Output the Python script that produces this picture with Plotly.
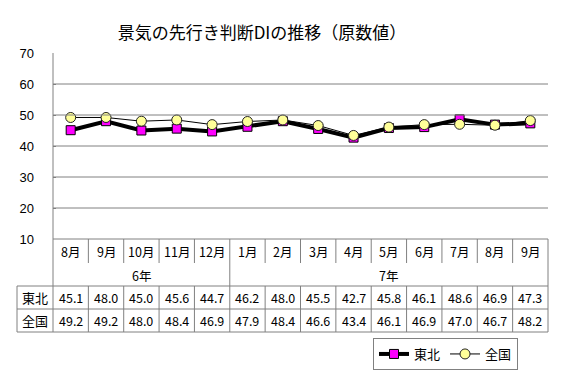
import plotly.graph_objects as go

months = ["8月", "9月", "10月", "11月", "12月", "1月", "2月", "3月", "4月", "5月", "6月", "7月", "8月", "9月"]
years = ["6年"] * 5 + ["7年"] * 9
tohoku = [45.1, 48.0, 45.0, 45.6, 44.7, 46.2, 48.0, 45.5, 42.7, 45.8, 46.1, 48.6, 46.9, 47.3]
zenkoku = [49.2, 49.2, 48.0, 48.4, 46.9, 47.9, 48.4, 46.6, 43.4, 46.1, 46.9, 47.0, 46.7, 48.2]
series_names = ["東北", "全国"]
title_text = "景気の先行き判断DIの推移（原数値）"
y_ticks = [10, 20, 30, 40, 50, 60, 70]

W, H = 564, 382
ML, MR, MT, MB = 53, 16, 53, 50
PW = W - ML - MR
PH = H - MT - MB
JP = "Noto Sans CJK JP"
GRID = "#808080"


def py(p):
    return (H - MB - p) / PH


def px(p):
    return (p - ML) / PW


xs = list(range(len(months)))

fig = go.Figure()
fig.add_trace(go.Scatter(
    x=xs, y=tohoku, name=series_names[0], mode="lines+markers",
    line=dict(color="black", width=4),
    marker=dict(symbol="square", size=9, color="#FF00FF", line=dict(color="black", width=1)),
))
fig.add_trace(go.Scatter(
    x=xs, y=zenkoku, name=series_names[1], mode="lines+markers",
    line=dict(color="black", width=1),
    marker=dict(symbol="circle", size=10, color="#FFFF99", line=dict(color="#222222", width=1)),
))

shapes = []
# horizontal gridlines (not at the bottom / top)
for v in y_ticks[1:-1]:
    shapes.append(dict(type="line", xref="paper", yref="y", x0=0, x1=1, y0=v, y1=v,
                       line=dict(color=GRID, width=1)))
# y axis line running down through the table
shapes.append(dict(type="line", xref="paper", yref="paper", x0=0, x1=0, y0=0, y1=1,
                   line=dict(color=GRID, width=1)))
# table horizontal lines
top = py(239)
r_year = py(263)
r1 = py(286)
r2 = py(309)
bot = 0
shapes.append(dict(type="line", xref="paper", yref="paper", x0=0, x1=1, y0=top, y1=top,
                   line=dict(color=GRID, width=1)))
for yy in (r1, r2, bot):
    shapes.append(dict(type="line", xref="paper", yref="paper", x0=px(17), x1=1, y0=yy, y1=yy,
                       line=dict(color=GRID, width=1)))
shapes.append(dict(type="line", xref="paper", yref="paper", x0=px(17), x1=px(17), y0=bot, y1=r1,
                   line=dict(color=GRID, width=1)))
shapes.append(dict(type="line", xref="paper", yref="paper", x0=1, x1=1, y0=bot, y1=top,
                   line=dict(color=GRID, width=1)))
# vertical separators between months
for i in range(1, len(months)):
    b = i - 0.5
    if years[i] != years[i - 1]:
        shapes.append(dict(type="line", xref="x", yref="paper", x0=b, x1=b, y0=bot, y1=top,
                           line=dict(color=GRID, width=1)))
    else:
        shapes.append(dict(type="line", xref="x", yref="paper", x0=b, x1=b, y0=r_year, y1=top,
                           line=dict(color=GRID, width=1)))
        shapes.append(dict(type="line", xref="x", yref="paper", x0=b, x1=b, y0=bot, y1=r1,
                           line=dict(color=GRID, width=1)))

annotations = []
tf = dict(family=JP, size=12.5, color="black")
for i, m in enumerate(months):
    annotations.append(dict(x=i, y=py(251.5), xref="x", yref="paper", text=m, showarrow=False,
                            font=tf, xanchor="center", yanchor="middle"))
    annotations.append(dict(x=i, y=py(297.5), xref="x", yref="paper", text=f"{tohoku[i]:.1f}",
                            showarrow=False, font=tf, xanchor="center", yanchor="middle"))
    annotations.append(dict(x=i, y=py(320.5), xref="x", yref="paper", text=f"{zenkoku[i]:.1f}",
                            showarrow=False, font=tf, xanchor="center", yanchor="middle"))
# year group labels
groups = []
for i, yv in enumerate(years):
    if not groups or groups[-1][0] != yv:
        groups.append([yv, i, i])
    else:
        groups[-1][2] = i
for yv, a, b in groups:
    annotations.append(dict(x=(a + b) / 2, y=py(275), xref="x", yref="paper", text=yv,
                            showarrow=False, font=tf, xanchor="center", yanchor="middle"))
# row labels
for name, yy in zip(series_names, (297.5, 320.5)):
    annotations.append(dict(x=px(35), y=py(yy), xref="paper", yref="paper", text=name,
                            showarrow=False, font=dict(family=JP, size=13, color="black"),
                            xanchor="center", yanchor="middle"))

fig.update_layout(
    width=W, height=H,
    margin=dict(l=ML, r=MR, t=MT, b=MB),
    paper_bgcolor="white", plot_bgcolor="white",
    title=dict(text=title_text, x=262 / W, y=1 - 33 / H, xref="container", yref="container",
               xanchor="center", yanchor="middle",
               font=dict(family=JP, size=17, color="black")),
    xaxis=dict(range=[-0.5, len(months) - 0.5], showgrid=False, zeroline=False,
               showticklabels=False, showline=False, ticks=""),
    yaxis=dict(domain=[py(239), 1], range=[10, 70], tickvals=y_ticks, showgrid=False,
               zeroline=False, showline=False, ticks="inside", ticklen=3, tickcolor=GRID,
               ticklabelstandoff=18,
               tickfont=dict(family="Liberation Sans", size=13, color="black")),
    showlegend=True,
    legend=dict(orientation="h", x=px(373), y=py(338), xanchor="left", yanchor="top",
                bordercolor=GRID, borderwidth=1, bgcolor="white",
                font=dict(family=JP, size=13, color="black"),
                itemwidth=30, tracegroupgap=0),
    shapes=shapes,
    annotations=annotations,
)

fig.write_html("out.html", config={"displayModeBar": False},
               post_script="document.body.style.margin='0';document.body.style.overflow='hidden';")
